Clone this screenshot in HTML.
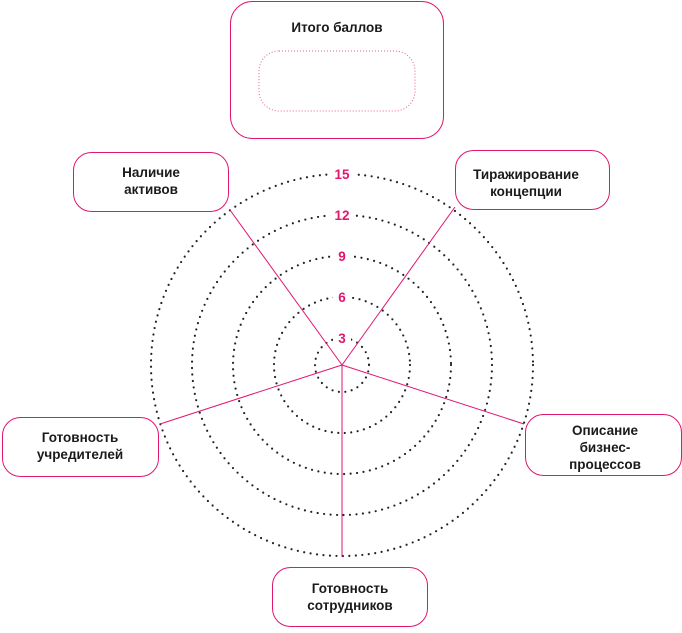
<!DOCTYPE html>
<html><head><meta charset="utf-8"><style>
body{margin:0;background:#fff;}
svg text{font-family:"Liberation Sans",sans-serif;font-weight:bold;}
</style></head><body>
<svg width="682" height="628" viewBox="0 0 682 628" xmlns="http://www.w3.org/2000/svg">
<g fill="none" stroke="#222" stroke-width="2.2" stroke-dasharray="0 6.5" stroke-linecap="round">
<circle cx="342" cy="365" r="191"/>
<circle cx="342" cy="365" r="150"/>
<circle cx="342" cy="365" r="109"/>
<circle cx="342" cy="365" r="68"/>
<circle cx="342" cy="365" r="27"/>
</g>
<g stroke="#e0166f" stroke-width="1">
<line x1="342" y1="365" x2="230" y2="210"/>
<line x1="342" y1="365" x2="455" y2="207"/>
<line x1="342" y1="365" x2="524" y2="424"/>
<line x1="342" y1="365" x2="342" y2="557"/>
<line x1="342" y1="365" x2="160" y2="424"/>
</g>
<g fill="#e0166f" font-size="13.5" text-anchor="middle">
<rect x="330" y="165" width="24" height="18" fill="#fff"/><text x="342" y="179">15</text>
<rect x="330" y="206" width="24" height="18" fill="#fff"/><text x="342" y="220">12</text>
<rect x="333" y="247" width="18" height="18" fill="#fff"/><text x="342" y="261">9</text>
<rect x="333" y="288" width="18" height="18" fill="#fff"/><text x="342" y="302">6</text>
<rect x="333" y="329" width="18" height="18" fill="#fff"/><text x="342" y="343">3</text>
</g>
<g fill="#fff" stroke="#e0166f" stroke-width="1">
<rect x="230.5" y="1.5" width="213" height="137" rx="22"/>
<rect x="73.5" y="152.5" width="155" height="59" rx="18"/>
<rect x="455.5" y="150.5" width="154" height="59" rx="18"/>
<rect x="525.5" y="414.5" width="156" height="61" rx="18"/>
<rect x="272.5" y="567.5" width="155" height="59" rx="18"/>
<rect x="2.5" y="417.5" width="156" height="59" rx="18"/>
</g>
<rect x="259" y="51" width="156" height="60" rx="20" fill="none" stroke="#e0166f" stroke-width="1" stroke-dasharray="1 2" opacity="0.7"/>
<g fill="#1a1a1a" font-size="13.5" text-anchor="middle">
<text x="337" y="32">Итого баллов</text>
<text x="151" y="177">Наличие</text><text x="151" y="194">активов</text>
<text x="526" y="179">Тиражирование</text><text x="526" y="196">концепции</text>
<text x="605" y="435">Описание</text><text x="605" y="452">бизнес-</text><text x="605" y="469">процессов</text>
<text x="350" y="593">Готовность</text><text x="350" y="610">сотрудников</text>
<text x="80" y="442">Готовность</text><text x="80" y="459">учредителей</text>
</g>
</svg>
</body></html>
